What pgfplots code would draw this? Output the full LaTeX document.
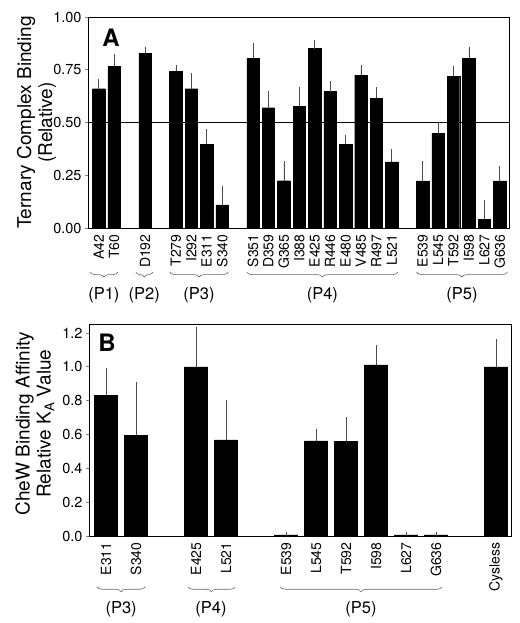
\documentclass[border=0pt]{standalone}
\usepackage{pgfplots}
\pgfplotsset{compat=1.18}
\usepackage{pgfplotstable}
\usepackage{fontspec}
\setmainfont{TeX Gyre Heros}
\usetikzlibrary{decorations.pathreplacing}

\pgfplotstableread{
x y e
0 0.660 0.035
1 0.766 0.048
3 0.829 0.016
5 0.744 0.017
6 0.660 0.064
7 0.398 0.062
8 0.109 0.081
10 0.804 0.063
11 0.570 0.067
12 0.224 0.081
13 0.578 0.078
14 0.850 0.032
15 0.646 0.038
16 0.398 0.030
17 0.725 0.036
18 0.615 0.041
19 0.313 0.052
21 0.223 0.082
22 0.449 0.045
23 0.720 0.038
24 0.804 0.044
25 0.041 0.082
26 0.223 0.061
}\dataA

\pgfplotstableread{
x y e
0 0.831 0.146
1 0.596 0.302
3 1.000 0.224
4 0.568 0.225
6 0.006 0.006
7 0.562 0.060
8 0.560 0.130
9 1.012 0.103
10 0.006 0.006
11 0.006 0.006
13 0.999 0.151
}\dataB

\pgfplotsset{
  panel/.style={
    scale only axis,
    axis line style={line width=0.8pt},
    clip=false,
    xtick pos=bottom, ytick pos=left,
    xtick style={draw=none},
    ytick style={line width=0.8pt},
    tick align=outside,
    major tick length=3pt,
    /pgf/number format/assume math mode=true,
    yticklabel style={font=\fontsize{14.5}{16}\selectfont},
    xticklabel style={font=\fontsize{14}{16}\selectfont, rotate=90, anchor=east},
    ylabel style={align=center, font=\fontsize{19}{21}\selectfont, rotate=0},
  },
}
\tikzset{
  brc/.style={decorate, decoration={brace, mirror, amplitude=5pt}, black!60, line width=0.6pt},
  grp/.style={font=\fontsize{16.5}{18}\selectfont},
}

\begin{document}
\begin{tikzpicture}
\useasboundingbox (0pt,0pt) rectangle (519pt,623pt);
% Panel A
\begin{axis}[panel,
  at={(88pt,395pt)}, anchor=south west,
  width=421pt, height=211pt,
  xmin=-0.7, xmax=26.6, ymin=0, ymax=1,
  ytick={0,0.25,0.5,0.75,1},
  yticklabel style={/pgf/number format/.cd, fixed, fixed zerofill, precision=2},
  xtick={0,1,3,5,6,7,8,10,11,12,13,14,15,16,17,18,19,21,22,23,24,25,26},
  xticklabels={A42,T60,D192,T279,I292,E311,S340,S351,D359,G365,I388,E425,R446,E480,V485,R497,L521,E539,L545,T592,I598,L627,G636},
  ylabel={Ternary Complex Binding\\(Relative)},
  ylabel style={at={(axis description cs:-0.122,0.5)}, anchor=center},
]
\addplot[ybar, bar width=0.81, fill=black, draw=black,
  error bars/.cd, y dir=plus, y explicit,
  error bar style={line width=0.7pt, black!70},
  error mark options={line width=0.7pt, black!70, mark size=2.2pt}]
  table[x=x, y=y, y error=e] {\dataA};
\draw[line width=0.6pt] (axis cs:-0.7,0.5) -- (axis cs:26.6,0.5);
\node[font=\fontsize{24}{26}\selectfont\bfseries] at (axis description cs:0.055,0.9) {A};
\draw[brc] (axis cs:-0.58,-0.209) -- (axis cs:1.25,-0.209);
\node[grp] at (axis cs:0.33,-0.32) {(P1)};
\draw[brc] (axis cs:2.4,-0.209) -- (axis cs:3.5,-0.209);
\node[grp] at (axis cs:2.95,-0.32) {(P2)};
\draw[brc] (axis cs:4.6,-0.209) -- (axis cs:8.4,-0.209);
\node[grp] at (axis cs:6.5,-0.32) {(P3)};
\draw[brc] (axis cs:9.6,-0.209) -- (axis cs:19.4,-0.209);
\node[grp] at (axis cs:14.5,-0.32) {(P4)};
\draw[brc] (axis cs:20.6,-0.209) -- (axis cs:26.5,-0.209);
\node[grp] at (axis cs:23.55,-0.32) {(P5)};
\end{axis}
% Panel B
\begin{axis}[panel,
  at={(89pt,87pt)}, anchor=south west,
  width=422pt, height=212pt,
  xmin=-0.57, xmax=13.5, ymin=0, ymax=1.253,
  ytick={0,0.2,0.4,0.6,0.8,1.0,1.2},
  yticklabel style={/pgf/number format/.cd, fixed, fixed zerofill, precision=1},
  xtick={0,1,3,4,6,7,8,9,10,11,13},
  xticklabels={E311,S340,E425,L521,E539,L545,T592,I598,L627,G636,Cysless},
  ylabel={CheW Binding Affinity\\Relative K\textsubscript{A} Value},
  ylabel style={at={(axis description cs:-0.128,0.53)}, anchor=center},
]
\addplot[ybar, bar width=0.77, fill=black, draw=black,
  error bars/.cd, y dir=plus, y explicit,
  error bar style={line width=0.7pt, black!70},
  error mark options={line width=0.7pt, black!70, mark size=2.2pt}]
  table[x=x, y=y, y error=e] {\dataB};
\node[font=\fontsize{24}{26}\selectfont\bfseries] at (axis description cs:0.043,0.91) {B};
\draw[brc] (axis cs:-0.3,-0.30) -- (axis cs:1.3,-0.30);
\node[grp] at (axis cs:0.5,-0.434) {(P3)};
\draw[brc] (axis cs:2.73,-0.30) -- (axis cs:4.3,-0.30);
\node[grp] at (axis cs:3.5,-0.434) {(P4)};
\draw[brc] (axis cs:5.8,-0.30) -- (axis cs:11.2,-0.30);
\node[grp] at (axis cs:8.5,-0.434) {(P5)};
\end{axis}
\end{tikzpicture}
\end{document}
